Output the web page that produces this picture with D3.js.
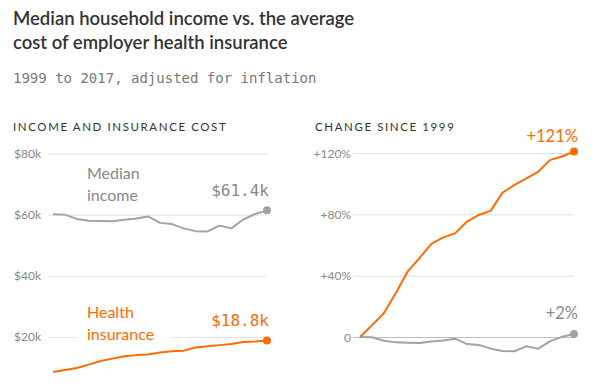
<!DOCTYPE html>
<html>
<head>
<meta charset="utf-8">
<script src="https://cdn.jsdelivr.net/npm/d3@7"></script>
<style>
  body { margin: 0; background: #fff; }
  svg { display: block; }
  .title { font-family: Lato, sans-serif; font-size: 18.5px; font-weight: 600; fill: #333; }
  .sub { font-family: "DejaVu Sans Mono", monospace; font-size: 14px; fill: #777; }
  .head { font-family: Lato, sans-serif; font-size: 11.5px; fill: #333; letter-spacing: 1.6px; }
  .tick text { font-family: Lato, sans-serif; font-size: 12px; fill: #888; }
  .lab { font-family: Lato, sans-serif; font-size: 16px; }
  .big { font-family: Lato, sans-serif; font-size: 16.5px; }
  .mono { font-family: "DejaVu Sans Mono", monospace; font-size: 16px; }
</style>
</head>
<body>
<script>
  //DATA
  var years = d3.range(1999, 2018); //1999 to 2017
  var income = [60.1, 60.0, 58.6, 58.0, 57.9, 57.8, 58.3, 58.7, 59.4, 57.3, 56.9, 55.5, 54.6, 54.5, 56.4, 55.5, 58.4, 60.2, 61.4]; //$k
  var insurance = [8.5, 9.15, 9.82, 10.92, 12.12, 12.88, 13.66, 14.03, 14.25, 14.9, 15.27, 15.5, 16.51, 16.93, 17.3, 17.67, 18.32, 18.5, 18.8]; //$k
  var incomeChange = [0, -0.2, -2.5, -3.5, -3.7, -3.9, -3.0, -2.3, -1.1, -4.6, -5.2, -7.6, -9.1, -9.3, -6.0, -7.6, -2.7, 0.2, 2.0]; //%
  var insuranceChange = [0, 7.6, 15.5, 28.5, 42.6, 51.5, 60.7, 65, 67.6, 75.3, 79.6, 82.4, 94.2, 99.2, 103.5, 107.9, 115.5, 117.7, 121]; //%
  var leftTicks = [20, 40, 60, 80];
  var rightTicks = [0, 40, 80, 120];

  var w = 610;
  var h = 388;
  var orange = "#ff6b00";
  var grey = "#a3a3a3";

  var svg = d3.select("body")
      .append("svg")
      .attr("width", w)
      .attr("height", h);

  //TITLES
  svg.append("text").attr("class", "title").attr("x", 13).attr("y", 25)
      .text("Median household income vs. the average");
  svg.append("text").attr("class", "title").attr("x", 13).attr("y", 49)
      .text("cost of employer health insurance");
  svg.append("text").attr("class", "sub").attr("x", 13).attr("y", 83)
      .text("1999 to 2017, adjusted for inflation");
  svg.append("text").attr("class", "head").attr("x", 13).attr("y", 131)
      .text("INCOME AND INSURANCE COST");
  svg.append("text").attr("class", "head").attr("x", 315).attr("y", 131)
      .text("CHANGE SINCE 1999");

  //SCALES
  var xL = d3.scaleLinear().domain([1999, 2017]).range([53, 267]);
  var yL = d3.scaleLinear().domain([0, 80]).range([398, 153.5]);
  var xR = d3.scaleLinear().domain([1999, 2017]).range([360, 574]);
  var yR = d3.scaleLinear().domain([0, 120]).range([337, 153]);

  //AXES (gridlines)
  var axL = svg.append("g")
      .attr("transform", "translate(48,0)")
      .call(d3.axisRight(yL).tickValues(leftTicks).tickSize(219)
          .tickFormat(function(d) { return "$" + d + "k"; }));
  axL.select(".domain").remove();
  axL.selectAll(".tick line").attr("stroke", "#e0e0e0");
  axL.selectAll(".tick text").attr("x", -7).attr("text-anchor", "end").attr("dy", "0.34em");

  var axR = svg.append("g")
      .attr("transform", "translate(353,0)")
      .call(d3.axisRight(yR).tickValues(rightTicks).tickSize(221)
          .tickFormat(function(d) { return d === 0 ? "0" : "+" + d + "%"; }));
  axR.select(".domain").remove();
  axR.selectAll(".tick line").attr("stroke", function(d) { return d === 0 ? "#bdbdbd" : "#e0e0e0"; });
  axR.selectAll(".tick text").attr("x", -2).attr("text-anchor", "end").attr("dy", "0.34em");

  //LINES
  function drawLine(values, x, y, color) {
      var line = d3.line()
          .x(function(d, i) { return x(years[i]); })
          .y(function(d) { return y(d); });
      svg.append("path")
          .datum(values)
          .attr("fill", "none")
          .attr("stroke", color)
          .attr("stroke-width", 2)
          .attr("stroke-linejoin", "round")
          .attr("d", line);
      svg.append("circle")
          .attr("cx", x(years[years.length - 1]))
          .attr("cy", y(values[values.length - 1]))
          .attr("r", 4)
          .attr("fill", color);
  }

  //label background for health insurance text
  svg.append("rect").attr("x", 76).attr("y", 326).attr("width", 96).attr("height", 20).attr("fill", "#fff");

  drawLine(income, xL, yL, grey);
  drawLine(insurance, xL, yL, orange);
  drawLine(incomeChange, xR, yR, grey);
  drawLine(insuranceChange, xR, yR, orange);

  //LABELS
  svg.append("text").attr("class", "lab").attr("x", 87).attr("y", 179).attr("fill", "#888").text("Median");
  svg.append("text").attr("class", "lab").attr("x", 87).attr("y", 201).attr("fill", "#888").text("income");
  svg.append("text").attr("class", "lab").attr("x", 87).attr("y", 318).attr("fill", orange).text("Health");
  svg.append("text").attr("class", "lab").attr("x", 87).attr("y", 340).attr("fill", orange).text("insurance");

  svg.append("text").attr("class", "mono").attr("x", 269).attr("y", 196).attr("text-anchor", "end")
      .attr("fill", "#888").text("$" + income[income.length - 1].toFixed(1) + "k");
  svg.append("text").attr("class", "mono").attr("x", 269).attr("y", 326).attr("text-anchor", "end")
      .attr("fill", orange).text("$" + insurance[insurance.length - 1].toFixed(1) + "k");

  svg.append("text").attr("class", "big").attr("x", 578).attr("y", 142).attr("text-anchor", "end")
      .attr("fill", orange).text("+" + Math.round(insuranceChange[insuranceChange.length - 1]) + "%");
  svg.append("text").attr("class", "big").attr("x", 578).attr("y", 319).attr("text-anchor", "end")
      .attr("fill", "#888").text("+" + Math.round(incomeChange[incomeChange.length - 1]) + "%");
</script>
</body>
</html>
